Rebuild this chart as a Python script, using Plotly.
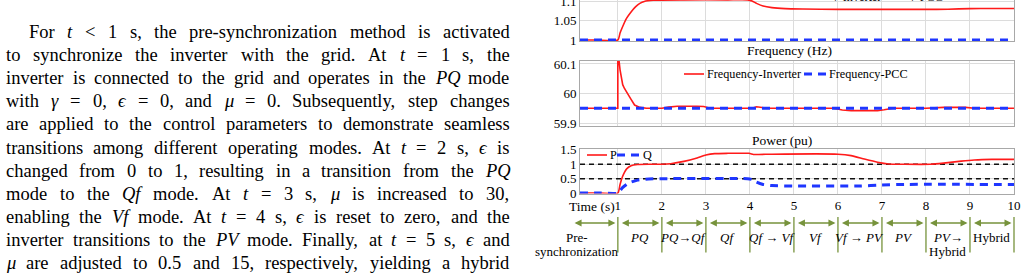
import plotly.graph_objects as go

# ---------------- data ----------------
# Voltage (pu)
t_v = [0.14, 0.5, 1.0, 1.05, 1.1, 1.15, 1.2, 1.3, 1.4, 1.5, 1.6, 1.8, 2.5, 3.5, 3.95, 4.05, 4.15, 4.3, 4.5, 4.8, 5.2, 6.0, 7.0, 8.0, 8.5, 9.0, 9.5, 10.0]
v_inverter = [1.0, 1.0, 1.0, 1.018, 1.032, 1.045, 1.056, 1.072, 1.085, 1.094, 1.099, 1.102, 1.103, 1.103, 1.103, 1.1, 1.094, 1.087, 1.083, 1.0805, 1.0795, 1.0785, 1.0785, 1.0785, 1.079, 1.0805, 1.081, 1.081]
t_pcc = [0.14, 10.0]
v_pcc = [1.0, 1.0]

# Frequency (Hz)
t_f = [0.14, 0.999, 1.0, 1.02, 1.05, 1.08, 1.11, 1.15, 1.19, 1.23, 1.3, 1.38, 1.5, 1.65, 2.0, 2.15, 2.35, 2.8, 2.95, 3.1, 4.05, 4.15, 4.25, 4.4, 5.9, 6.1, 6.3, 6.9, 7.05, 7.25, 8.0, 8.2, 8.4, 8.9, 9.1, 10.0]
f_inverter = [59.95, 59.95, 60.3, 60.12, 60.08, 60.047, 60.03, 60.017, 60.006, 59.997, 59.98, 59.961, 59.953, 59.95, 59.95, 59.954, 59.957, 59.957, 59.956, 59.95, 59.95, 59.955, 59.954, 59.95, 59.95, 59.944, 59.942, 59.942, 59.945, 59.95, 59.95, 59.952, 59.953, 59.953, 59.95, 59.95]
f_pcc = [59.95, 59.95]

# Power (pu)
t_p = [0.14, 0.6, 1.0, 1.05, 1.1, 1.15, 1.2, 1.3, 1.45, 1.7, 2.0, 2.2, 2.5, 2.8, 3.0, 3.2, 3.5, 3.98, 4.08, 4.2, 4.5, 6.0, 6.3, 6.6, 6.9, 7.15, 7.5, 8.1, 8.4, 8.8, 9.1, 9.5, 10.0]
p_vals = [0, 0, 0, 0.3, 0.55, 0.72, 0.84, 0.95, 0.99, 1.0, 1.0, 1.02, 1.1, 1.22, 1.32, 1.37, 1.38, 1.38, 1.34, 1.34, 1.35, 1.35, 1.3, 1.18, 1.07, 1.01, 1.0, 1.0, 1.04, 1.11, 1.15, 1.17, 1.17]
t_q = [0.14, 0.6, 1.0, 1.1, 1.2, 1.3, 1.45, 1.7, 2.0, 3.95, 4.05, 4.15, 4.3, 4.5, 5.0, 6.5, 7.0, 7.5, 10.0]
q_vals = [0, 0, 0, 0.18, 0.3, 0.38, 0.45, 0.49, 0.5, 0.5, 0.47, 0.38, 0.3, 0.26, 0.245, 0.245, 0.28, 0.3, 0.3]
ref_levels = [1.0, 0.5]

# timeline
mode_bounds = [-0.075, 1, 2, 3, 4, 5, 6, 7, 8, 9, 10]
mode_labels = [
    ("Pre-", "synchronization"),
    ("<i>PQ</i>", ""),
    ("<i>PQ</i>→<i>Qf</i>", ""),
    ("<i>Qf</i>", ""),
    ("<i>Qf</i> → <i>Vf</i>", ""),
    ("<i>Vf</i>", ""),
    ("<i>Vf</i> → <i>PV</i>", ""),
    ("<i>PV</i>", ""),
    ("<i>PV</i>→", "Hybrid"),
    ("Hybrid", ""),
]
x_ticks = [1, 2, 3, 4, 5, 6, 7, 8, 9, 10]

# paragraph text (italic tokens in braces)
para_lines = [
    "For {t} < 1 s, the pre-synchronization method is activated",
    "to synchronize the inverter with the grid. At {t} = 1 s, the",
    "inverter is connected to the grid and operates in the {PQ} mode",
    "with {γ} = 0, {ϵ} = 0, and {μ} = 0. Subsequently, step changes",
    "are applied to the control parameters to demonstrate seamless",
    "transitions among different operating modes. At {t} = 2 s, {ϵ} is",
    "changed from 0 to 1, resulting in a transition from the {PQ}",
    "mode to the {Qf} mode. At {t} = 3 s, {μ} is increased to 30,",
    "enabling the {Vf} mode. At {t} = 4 s, {ϵ} is reset to zero, and the",
    "inverter transitions to the {PV} mode. Finally, at {t} = 5 s, {ϵ} and",
    "{μ} are adjusted to 0.5 and 15, respectively, yielding a hybrid",
]

# ---------------- style ----------------
W, H = 1028, 279
FONT = "Liberation Serif"
RED = "#ff1a1a"
BLUE = "#1f36ff"
GREEN = "#77933c"
GRID = "#dcdcdc"
FRAME = "#a8a8a8"
RED_LINE = dict(color=RED, width=1.6)
BLUE_LINE = dict(color=BLUE, width=3, dash="8px,6px")

def px_x(p):
    return p / W

def px_y(p):
    return 1 - p / H

fig = go.Figure()

# Voltage panel
fig.add_trace(go.Scatter(x=t_v, y=v_inverter, mode="lines", name="V-Inverter", showlegend=False,
                         line=dict(RED_LINE, shape="spline", smoothing=0.5), xaxis="x", yaxis="y"))
fig.add_trace(go.Scatter(x=t_pcc, y=v_pcc, mode="lines", name="V-PCC", showlegend=False,
                         line=BLUE_LINE, xaxis="x", yaxis="y"))
# Frequency panel
fig.add_trace(go.Scatter(x=t_f, y=f_inverter, mode="lines", name="Frequency-Inverter", showlegend=False,
                         line=RED_LINE, xaxis="x2", yaxis="y2"))
fig.add_trace(go.Scatter(x=t_pcc, y=f_pcc, mode="lines", name="Frequency-PCC", showlegend=False,
                         line=BLUE_LINE, xaxis="x2", yaxis="y2"))
# Power panel
for lv in ref_levels:
    fig.add_trace(go.Scatter(x=t_pcc, y=[lv, lv], mode="lines", showlegend=False,
                             line=dict(color="#111111", width=1.5, dash="5px,4px"),
                             xaxis="x3", yaxis="y3", hoverinfo="skip"))
fig.add_trace(go.Scatter(x=t_p, y=p_vals, mode="lines", name="P", showlegend=False,
                         line=dict(RED_LINE, shape="spline", smoothing=0.5), xaxis="x3", yaxis="y3"))
fig.add_trace(go.Scatter(x=t_q, y=q_vals, mode="lines", name="Q", showlegend=False,
                         line=dict(BLUE_LINE, shape="spline", smoothing=0.5), xaxis="x3", yaxis="y3"))

xdom = [px_x(580), px_x(1014)]
ax_common = dict(showgrid=True, gridcolor=GRID, gridwidth=1, showline=True, mirror=True,
                 linecolor=FRAME, linewidth=1, zeroline=False, ticks="", automargin=False,
                 ticklabeloverflow="allow",
                 tickfont=dict(family=FONT, size=13, color="black"))
xcommon = dict(ax_common, domain=xdom, range=[0.14, 10], tickmode="array", tickvals=x_ticks)

axes = dict(
    xaxis=dict(xcommon, anchor="y", showticklabels=False),
    xaxis2=dict(xcommon, anchor="y2", showticklabels=False),
    xaxis3=dict(xcommon, anchor="y3", showticklabels=True),
    yaxis=dict(ax_common, anchor="x", domain=[px_y(41), 1], range=[0.9975, 1.1026],
               tickmode="array", tickvals=[1, 1.05, 1.1], ticktext=["1", "1.05", "1.1"]),
    yaxis2=dict(ax_common, anchor="x2", domain=[px_y(126), px_y(61)], range=[59.89, 60.11],
                tickmode="array", tickvals=[59.9, 60, 60.1], ticktext=["59.9", "60", "60.1"]),
    yaxis3=dict(ax_common, anchor="x3", domain=[px_y(193.5), px_y(149)], range=[-0.015, 1.53],
                tickmode="array", tickvals=[0, 0.5, 1, 1.5], ticktext=["0", "0.5", "1", "1.5"]),
)

annotations = []
shapes = []

def ptext(text, x, y, size=13, xanchor="center"):
    annotations.append(dict(text=text, x=px_x(x), y=px_y(y), xref="paper", yref="paper",
                            xanchor=xanchor, yanchor="middle", showarrow=False, borderpad=0,
                            font=dict(family=FONT, size=size, color="black")))

# panel titles
ptext("Frequency (Hz)", 789, 50, 13.5)
ptext("Power (pu)", 782, 140, 13.5)
ptext("Time (s)", 616, 206, 13.5, "right")

# legends (drawn as samples + text)
def legend_item(x0, x1, y, line, label):
    shapes.append(dict(type="line", xref="paper", yref="paper", x0=px_x(x0), x1=px_x(x1),
                       y0=px_y(y), y1=px_y(y), line=line))
    ptext(label, x1 + 2, y, 12.2, "left")

legend_item(808, 828, -3, RED_LINE, "V-Inverter")
legend_item(884, 905, -3, BLUE_LINE, "V-PCC")
legend_item(684, 704, 74, RED_LINE, "Frequency-Inverter")
legend_item(804, 826, 74, BLUE_LINE, "Frequency-PCC")
legend_item(587, 607, 155, RED_LINE, "P")
legend_item(617, 640, 155, BLUE_LINE, "Q")

# timeline arrows, separators and labels
y_arrow = px_y(223)
for i in range(len(mode_bounds) - 1):
    a, b = mode_bounds[i], mode_bounds[i + 1]
    annotations.append(dict(text="", x=b, y=y_arrow, xref="x3", yref="paper",
                            ax=a, ay=0, axref="x3", ayref="pixel", showarrow=True,
                            arrowhead=2, arrowside="end+start", arrowsize=1.0, arrowwidth=1.4,
                            arrowcolor=GREEN, standoff=2.5, startstandoff=2.5))
for b in mode_bounds[1:]:
    annotations.append(dict(text="", x=b, y=px_y(217), xref="x3", yref="paper",
                            ax=b, ay=37, axref="x3", ayref="pixel", showarrow=True,
                            arrowhead=0, arrowwidth=1.3, arrowcolor=GREEN, standoff=0))
for i, (l1, l2) in enumerate(mode_labels):
    if i == 0:
        ptext(l1, 577, 237, 13)
        ptext(l2, 576.5, 251, 13)
        continue
    cx = (mode_bounds[i] + mode_bounds[i + 1]) / 2
    annotations.append(dict(text=l1, x=cx, y=px_y(237), xref="x3", yref="paper", showarrow=False,
                            xanchor="center", yanchor="middle",
                            font=dict(family=FONT, size=13, color="black")))
    if l2:
        annotations.append(dict(text=l2, x=cx, y=px_y(251), xref="x3", yref="paper", showarrow=False,
                                xanchor="center", yanchor="middle",
                                font=dict(family=FONT, size=13, color="black")))

# justified paragraph
ROMAN = {' ': 250, ',': 250, '.': 250, '-': 333, '<': 564, '=': 564}
for c in "0123456789":
    ROMAN[c] = 500
ROMAN.update(dict(a=444, b=500, c=444, d=500, e=444, f=333, g=500, h=500, i=278, j=278, k=500, l=278,
                  m=778, n=500, o=500, p=500, q=500, r=333, s=389, t=278, u=500, v=500, w=722, x=500,
                  y=500, z=444, A=722, F=556, P=556, Q=722, S=556, V=722))
ITAL = {'t': 278, 'f': 278, 'P': 611, 'Q': 722, 'V': 611, 'γ': 440, 'ϵ': 420, 'μ': 500}
FS = 18.5
LEFT, RIGHT, INDENT = 5.0, 508.5, 28.0
y0, dy = 32.0, 23.1

def word_width(tok, italic):
    tbl = ITAL if italic else ROMAN
    return sum(tbl.get(ch, 500) for ch in tok) / 1000.0 * FS

for li, line in enumerate(para_lines):
    items = []
    for tk in line.split(" "):
        if tk.startswith("{") and tk.endswith("}"):
            items.append((tk[1:-1], True))
        else:
            items.append((tk, False))
    widths = [word_width(s, it) for s, it in items]
    start = INDENT if li == 0 else LEFT
    gap = (RIGHT - start - sum(widths)) / (len(items) - 1)
    xpos = start
    ypix = y0 + li * dy
    for (s, it), w in zip(items, widths):
        txt = s.replace("<", "&lt;")
        if it:
            txt = "<i>" + txt + "</i>"
        ptext(txt, xpos, ypix, FS, "left")
        xpos += w + gap

fig.update_layout(
    width=W, height=H, margin=dict(l=0, r=0, t=0, b=0, pad=0, autoexpand=False),
    paper_bgcolor="white", plot_bgcolor="white",
    font=dict(family=FONT, size=13, color="black"),
    showlegend=False,
    annotations=annotations,
    shapes=shapes,
    **axes,
)

fig.write_html("out.html")
